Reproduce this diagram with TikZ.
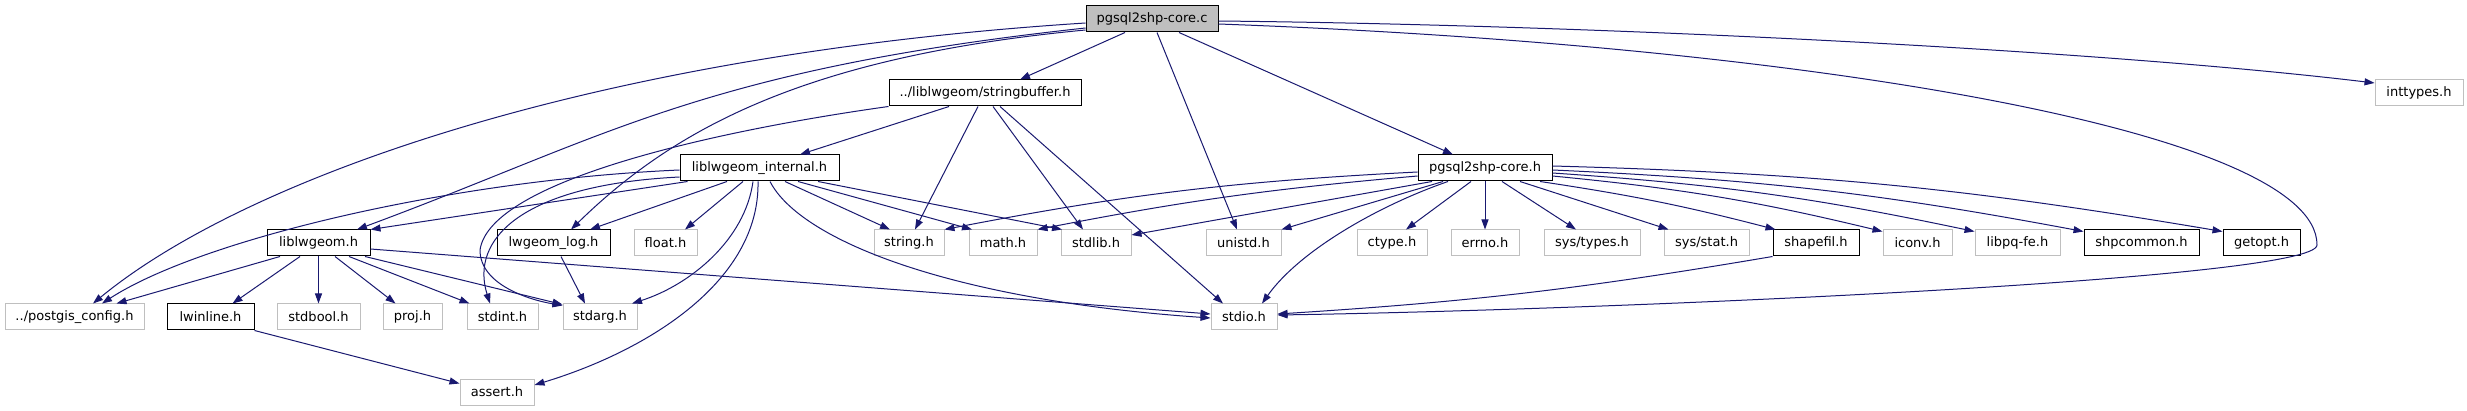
\documentclass[tikz,border=0pt]{standalone}
\usepackage{fontspec}
\setmainfont{DejaVu Sans}
\usetikzlibrary{arrows.meta}
\definecolor{edgec}{HTML}{191970}
\definecolor{greyb}{HTML}{BFBFBF}
\begin{document}
\begin{tikzpicture}[x=1pt,y=-1pt,
  box/.style={draw, line width=1pt, minimum height=26pt, inner sep=0pt, font=\fontsize{13}{15}\selectfont, anchor=center},
  doc/.style={box, draw=black, fill=white},
  ext/.style={box, draw=greyb, fill=white},
  rootbox/.style={box, draw=black, fill=greyb},
  e/.style={draw=edgec, line width=1pt, -{Triangle[length=10pt,width=7pt]}}]
\fill[white] (0,0) rectangle (2467,411);
\useasboundingbox (0,0) rectangle (2467,411);
% nodes
\node[rootbox, minimum width=132pt] (root) at (1152,19) {pgsql2shp-core.c};
\node[doc, minimum width=192pt] (sb) at (985,93) {../liblwgeom/stringbuffer.h};
\node[ext, minimum width=88pt] (inttypes) at (2419,93) {inttypes.h};
\node[doc, minimum width=159pt] (lwi) at (759.5,168) {liblwgeom\_internal.h};
\node[doc, minimum width=134pt] (pch) at (1485,168) {pgsql2shp-core.h};
\node[doc, minimum width=103pt] (lwg) at (318.5,243) {liblwgeom.h};
\node[doc, minimum width=113pt] (log) at (553.5,243) {lwgeom\_log.h};
\node[ext, minimum width=63pt] (float) at (665.5,243) {float.h};
\node[ext, minimum width=70pt] (string) at (909,243) {string.h};
\node[ext, minimum width=68pt] (math) at (1003,243) {math.h};
\node[ext, minimum width=70pt] (stdlib) at (1096,243) {stdlib.h};
\node[ext, minimum width=75pt] (unistd) at (1243.5,243) {unistd.h};
\node[ext, minimum width=70pt] (ctype) at (1392,243) {ctype.h};
\node[ext, minimum width=68pt] (errno) at (1485,243) {errno.h};
\node[ext, minimum width=96pt] (systypes) at (1592,243) {sys/types.h};
\node[ext, minimum width=85pt] (sysstat) at (1706.5,243) {sys/stat.h};
\node[doc, minimum width=86pt] (shapefil) at (1816,243) {shapefil.h};
\node[ext, minimum width=69pt] (iconv) at (1917.5,243) {iconv.h};
\node[ext, minimum width=85pt] (libpq) at (2017.5,243) {libpq-fe.h};
\node[doc, minimum width=115pt] (shpcommon) at (2141.5,243) {shpcommon.h};
\node[doc, minimum width=77pt] (getopt) at (2261.5,243) {getopt.h};
\node[ext, minimum width=139pt] (pgc) at (74.5,317) {../postgis\_config.h};
\node[doc, minimum width=87pt] (lwinline) at (210.5,317) {lwinline.h};
\node[ext, minimum width=83pt] (stdbool) at (318.5,317) {stdbool.h};
\node[ext, minimum width=59pt] (proj) at (412.5,317) {proj.h};
\node[ext, minimum width=71pt] (stdint) at (502.5,317) {stdint.h};
\node[ext, minimum width=74pt] (stdarg) at (600,317) {stdarg.h};
\node[ext, minimum width=66pt] (stdio) at (1244,317) {stdio.h};
\node[ext, minimum width=74pt] (assert) at (497,392) {assert.h};
% edges from pgsql2shp-core.c
\draw[e] ([yshift=-4pt]root.west) .. controls (586,55) and (243,180) .. ([xshift=18.5pt]pgc.north);
\draw[e] ([yshift=-9pt]root.west) .. controls (700,70) and (607,137) .. ([xshift=38.5pt]lwg.north);
\draw[e] ([yshift=-11pt]root.west) .. controls (800,57) and (671,132) .. ([xshift=17.5pt]log.north);
\draw[e] ([xshift=-27pt]root.south) -- ([xshift=35pt]sb.north);
\draw[e] ([xshift=5pt]root.south) -- ([xshift=-6.5pt]unistd.north);
\draw[e] ([xshift=27pt]root.south) -- ([xshift=-32pt]pch.north);
\draw[e] ([yshift=-2pt]root.east) .. controls (1600,25) and (2100,50) .. ([yshift=10pt]inttypes.west);
\draw[e] ([yshift=-5pt]root.east) .. controls (1800,45) and (2317,130) .. (2317,245) .. controls (2317,280) and (1600,310) .. ([yshift=2pt]stdio.east);
% edges from stringbuffer.h
\draw[e] ([xshift=-36pt]sb.south) -- ([xshift=40.5pt]lwi.north);
\draw[e] ([xshift=-7pt]sb.south) -- ([xshift=6pt]string.north);
\draw[e] ([xshift=8pt]sb.south) -- ([xshift=-13pt]stdlib.north);
\draw[e] ([xshift=15pt]sb.south) -- ([xshift=-21pt]stdio.north);
\draw[e] (sb.south west) .. controls (720,130) and (490,180) .. (480,250) .. controls (480,285) and (530,300) .. ([yshift=-2pt]stdarg.north west);
% edges from liblwgeom_internal.h
\draw[e] ([yshift=-2pt]lwi.west) .. controls (450,180) and (200,240) .. ([xshift=27.5pt]pgc.north);
\draw[e] ([xshift=8pt]lwi.south west) -- (lwg.north east);
\draw[e] ([yshift=-9pt]lwi.west) .. controls (520,185) and (470,240) .. ([xshift=-12.5pt]stdint.north);
\draw[e] ([xshift=-32.5pt]lwi.south) -- ([xshift=36.5pt]log.north);
\draw[e] ([xshift=-16.5pt]lwi.south) -- ([xshift=19.5pt]float.north);
\draw[e] ([xshift=-6.5pt]lwi.south) .. controls (745,240) and (690,285) .. ([xshift=32pt]stdarg.north);
\draw[e] ([xshift=-1.5pt]lwi.south) .. controls (760,280) and (650,350) .. ([yshift=7pt]assert.east);
\draw[e] ([xshift=10.5pt]lwi.south) .. controls (800,240) and (950,300) .. ([yshift=-1pt]stdio.west);
\draw[e] ([xshift=25.5pt]lwi.south) -- ([xshift=-19pt]string.north);
\draw[e] ([xshift=38.5pt]lwi.south) -- ([xshift=-31pt]math.north);
\draw[e] ([xshift=58.5pt]lwi.south) -- ([xshift=-34pt]stdlib.north);
% edges from pgsql2shp-core.h
\draw[e] ([yshift=-4pt]pch.west) to[bend right=4] (string.north east);
\draw[e] ([yshift=-8pt]pch.west) to[bend right=3] (math.north east);
\draw[e] ([xshift=-53pt]pch.south) -- ([yshift=8pt]stdlib.east);
\draw[e] ([xshift=-42pt]pch.south) -- (unistd.north east);
\draw[e] ([xshift=-37pt]pch.south) .. controls (1380,205) and (1300,250) .. ([xshift=18pt]stdio.north);
\draw[e] ([xshift=-14pt]pch.south) -- ([xshift=14pt]ctype.north);
\draw[e] (pch.south) -- (errno.north);
\draw[e] ([xshift=17pt]pch.south) -- ([xshift=-16pt]systypes.north);
\draw[e] ([xshift=35pt]pch.south) -- ([xshift=-38pt]sysstat.north);
\draw[e] ([xshift=55pt]pch.south) to[bend left=3] ([xshift=3pt]shapefil.north west);
\draw[e] ([yshift=-8pt]pch.east) to[bend left=4] ([yshift=-2pt]iconv.north west);
\draw[e] ([yshift=-5pt]pch.east) to[bend left=4] ([yshift=-2pt]libpq.north west);
\draw[e] ([yshift=-2pt]pch.east) to[bend left=4] ([yshift=-2pt]shpcommon.north west);
\draw[e] ([yshift=2pt]pch.east) to[bend left=4] ([yshift=-2pt]getopt.north west);
% edges from liblwgeom.h
\draw[e] ([xshift=-38.5pt]lwg.south) -- ([xshift=42pt]pgc.north);
\draw[e] ([xshift=-18.5pt]lwg.south) -- ([xshift=22pt]lwinline.north);
\draw[e] (lwg.south) -- (stdbool.north);
\draw[e] ([xshift=16.5pt]lwg.south) -- ([xshift=-17pt]proj.north);
\draw[e] ([xshift=30.5pt]lwg.south) -- ([xshift=-33pt]stdint.north);
\draw[e] ([xshift=46.5pt]lwg.south) -- ([yshift=-1pt]stdarg.north west);
\draw[e] ([yshift=-6pt]lwg.east) -- ([yshift=3pt]stdio.west);
% other edges
\draw[e] (lwinline.south east) -- ([yshift=-5pt]assert.north west);
\draw[e] ([xshift=7.5pt]log.south) -- ([xshift=-15pt]stdarg.north);
\draw[e] (shapefil.south west) to[bend left=3] ([yshift=3pt]stdio.east);
\end{tikzpicture}
\end{document}
